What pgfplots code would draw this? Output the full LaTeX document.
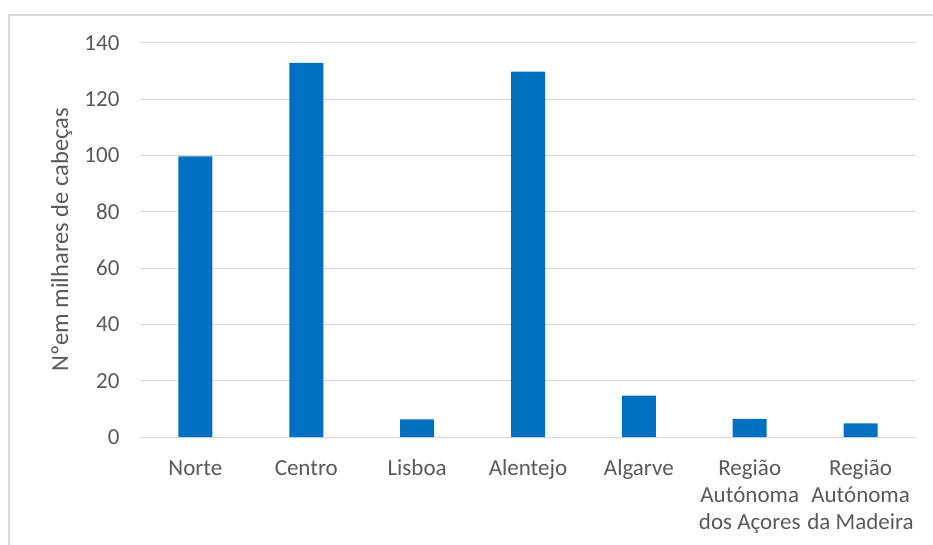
\documentclass[border=0pt]{standalone}
\usepackage{fontspec}
\setmainfont{Carlito}
\usepackage{pgfplots}
\usepackage{pgfplotstable}
\pgfplotsset{compat=1.18}

\definecolor{barblue}{HTML}{0070C0}
\definecolor{txtgray}{HTML}{595959}
\definecolor{gridgray}{HTML}{D9D9D9}

\pgfplotstableread{
x val
0 99.7
1 132.9
2 6.3
3 129.8
4 14.7
5 6.4
6 4.8
}\cabecas

\begin{document}
\begin{tikzpicture}
\useasboundingbox (0pt,0pt) rectangle (933pt,544pt);
% chart area frame, cut by the page on the right and bottom
\draw[gridgray, line width=1.6pt] (9pt,-20pt) -- (9pt,529pt) -- (960pt,529pt);
\begin{axis}[
    at={(140pt,107pt)}, anchor=south west,
    scale only axis,
    width=776pt, height=394pt,
    ybar, bar width=34pt,
    xmin=-0.5, xmax=6.5,
    ymin=0, ymax=140,
    ytick={0,20,...,140},
    xtick=data,
    xticklabels={\strut Norte,\strut Centro,\strut Lisboa,\strut Alentejo,\strut Algarve,
      {\strut Região\\Autónoma\\dos Açores},{\strut Região\\Autónoma\\da Madeira}},
    axis line style={draw=none},
    major tick style={draw=none},
    ymajorgrids,
    grid style={gridgray, line width=1pt},
    tick label style={font=\fontsize{23}{27}\selectfont, text=txtgray},
    /pgf/number format/assume math mode=true,
    yticklabel style={xshift=-17pt},
    xticklabel style={align=center, anchor=north, yshift=-12pt},
    ylabel={Nºem milhares de cabeças},
    ylabel style={font=\fontsize{24.5}{28}\selectfont, text=txtgray,
      at={(axis description cs:-0.101,0.5)}, anchor=center, rotate=0},
]
\addplot[fill=barblue, draw=none] table[x=x, y=val] {\cabecas};
\end{axis}
\end{tikzpicture}
\end{document}
